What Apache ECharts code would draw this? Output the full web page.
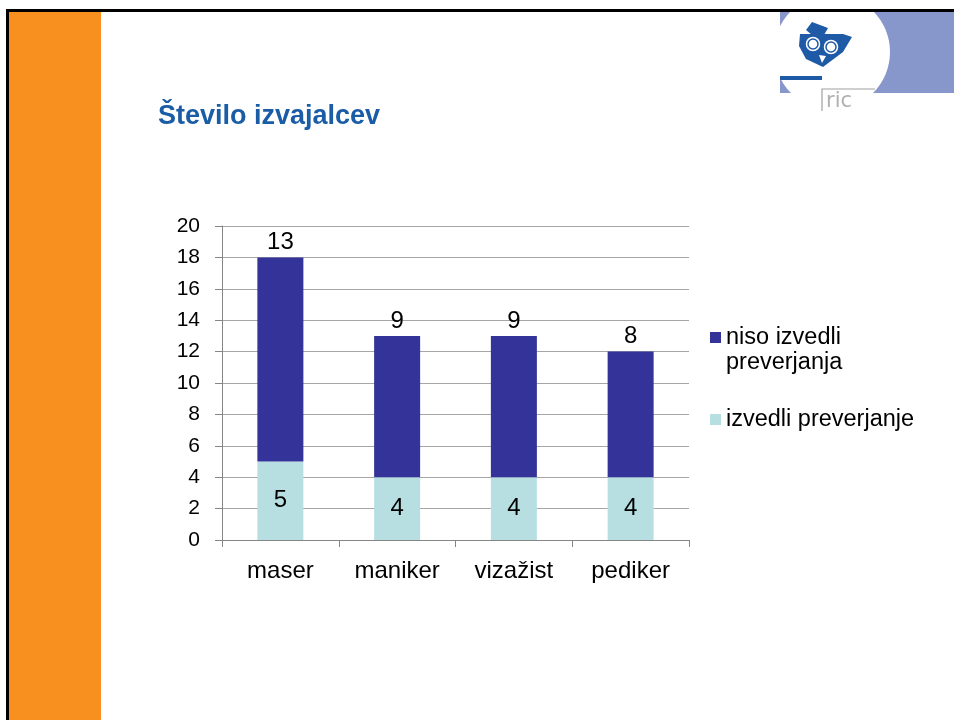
<!DOCTYPE html>
<html>
<head>
<meta charset="utf-8">
<script src="https://cdn.jsdelivr.net/npm/echarts@6/dist/echarts.min.js"></script>
<style>
  html, body { margin: 0; padding: 0; background: #fff; }
  #chart { width: 954px; height: 720px; }
</style>
</head>
<body>
<div id="chart"></div>
<script>
// chart data
var categories = ['maser', 'maniker', 'vizažist', 'pediker'];
var passed = [5, 4, 4, 4];        // izvedli preverjanje
var notPassed = [13, 9, 9, 8];    // niso izvedli preverjanja
var yTicks = [0, 20, 2];          // min, max, interval

var fontName = '"Liberation Sans", Arial, sans-serif';

document.addEventListener("DOMContentLoaded", function () {
    var chart = echarts.init(document.getElementById('chart'));
    var owlBlue = '#1E5AA6';

    option = {
        backgroundColor: '#ffffff',
        animation: false,
        textStyle: { fontFamily: fontName },
        title: {
            text: 'Število izvajalcev',
            left: 153,
            top: 98,
            textStyle: { fontSize: 27, fontWeight: 'bold', color: '#1B5CA7', fontFamily: fontName }
        },
        legend: {
            orient: 'vertical',
            left: 705,
            top: 295,
            itemWidth: 11,
            itemHeight: 11,
            itemGap: 32,
            icon: 'rect',
            textStyle: { fontSize: 23.5, color: '#000', fontFamily: fontName, lineHeight: 25 },
            data: ['niso izvedli preverjanja', 'izvedli preverjanje'],
            formatter: function (name) {
                // leading blank line keeps the icon level with the first text line
                return name === 'niso izvedli preverjanja' ? '\nniso izvedli\npreverjanja' : name;
            }
        },
        grid: { left: 222, right: 265, top: 226, bottom: 180, containLabel: false },
        xAxis: {
            type: 'category',
            data: categories,
            boundaryGap: true,
            axisLine: { lineStyle: { color: '#868686', width: 1 } },
            axisTick: { show: true, length: 7, alignWithLabel: false, lineStyle: { color: '#868686' } },
            axisLabel: { fontSize: 24, color: '#000', margin: 19, fontFamily: fontName }
        },
        yAxis: {
            type: 'value',
            min: yTicks[0],
            max: yTicks[1],
            interval: yTicks[2],
            axisLine: { show: true, lineStyle: { color: '#868686', width: 1 } },
            axisTick: { show: true, length: 7, lineStyle: { color: '#868686' } },
            splitLine: { lineStyle: { color: '#A6A6A6', width: 1 } },
            axisLabel: { fontSize: 21, color: '#000', margin: 22, fontFamily: fontName }
        },
        series: [
            {
                name: 'izvedli preverjanje',
                type: 'bar',
                stack: 'total',
                barWidth: 46,
                data: passed,
                itemStyle: { color: '#B7DFE2' },
                label: { show: true, position: 'inside', fontSize: 24, color: '#000', fontFamily: fontName }
            },
            {
                name: 'niso izvedli preverjanja',
                type: 'bar',
                stack: 'total',
                barWidth: 46,
                data: notPassed,
                itemStyle: { color: '#333399' },
                label: { show: true, position: 'top', distance: 3, fontSize: 24, color: '#000', fontFamily: fontName }
            }
        ],
        graphic: [
            // orange side strip
            { type: 'rect', shape: { x: 9, y: 12, width: 92, height: 708 }, style: { fill: '#F7901E' }, z: 1 },
            // logo background
            { type: 'rect', shape: { x: 780, y: 12, width: 174, height: 81 }, style: { fill: '#8796CB' }, z: 1 },
            { type: 'circle', shape: { cx: 832, cy: 52, r: 58 }, style: { fill: '#ffffff' }, z: 2 },
            { type: 'rect', shape: { x: 780, y: 93, width: 174, height: 40 }, style: { fill: '#ffffff' }, z: 2 },
            // owl
            { type: 'polygon', shape: { points: [[806, 30], [812, 22], [828, 28], [824, 35], [812, 35]] }, style: { fill: owlBlue }, z: 3 },
            { type: 'polygon', shape: { points: [[800, 34], [843, 34], [852, 37], [843, 52], [823, 67], [806, 59], [799, 46]] }, style: { fill: owlBlue }, z: 3 },
            { type: 'circle', shape: { cx: 813, cy: 44, r: 8 }, style: { fill: '#ffffff', stroke: owlBlue, lineWidth: 1.5 }, z: 4 },
            { type: 'circle', shape: { cx: 813, cy: 44, r: 5 }, style: { fill: '#ffffff', stroke: owlBlue, lineWidth: 1.5 }, z: 5 },
            { type: 'circle', shape: { cx: 831, cy: 47, r: 8 }, style: { fill: '#ffffff', stroke: owlBlue, lineWidth: 1.5 }, z: 4 },
            { type: 'circle', shape: { cx: 831, cy: 47, r: 5 }, style: { fill: '#ffffff', stroke: owlBlue, lineWidth: 1.5 }, z: 5 },
            { type: 'polygon', shape: { points: [[819, 55], [826, 56], [822, 63]] }, style: { fill: '#ffffff' }, z: 5 },
            { type: 'rect', shape: { x: 780, y: 76, width: 42, height: 4 }, style: { fill: owlBlue }, z: 3 },
            // "ric" mark
            { type: 'polyline', shape: { points: [[822, 111], [822, 89], [875, 89]] }, style: { stroke: '#A0A0A0', lineWidth: 1.2, fill: null }, z: 3 },
            { type: 'text', x: 826, y: 91, style: { text: 'ric', font: '21px "DejaVu Sans", sans-serif', fill: '#B0B0B0' }, z: 3 },
            // slide border
            { type: 'rect', shape: { x: 6, y: 9, width: 948, height: 3 }, style: { fill: '#000' }, z: 10 },
            { type: 'rect', shape: { x: 6, y: 9, width: 3, height: 711 }, style: { fill: '#000' }, z: 10 }
        ]
    };
    chart.setOption(option);
});
</script>
</body>
</html>
